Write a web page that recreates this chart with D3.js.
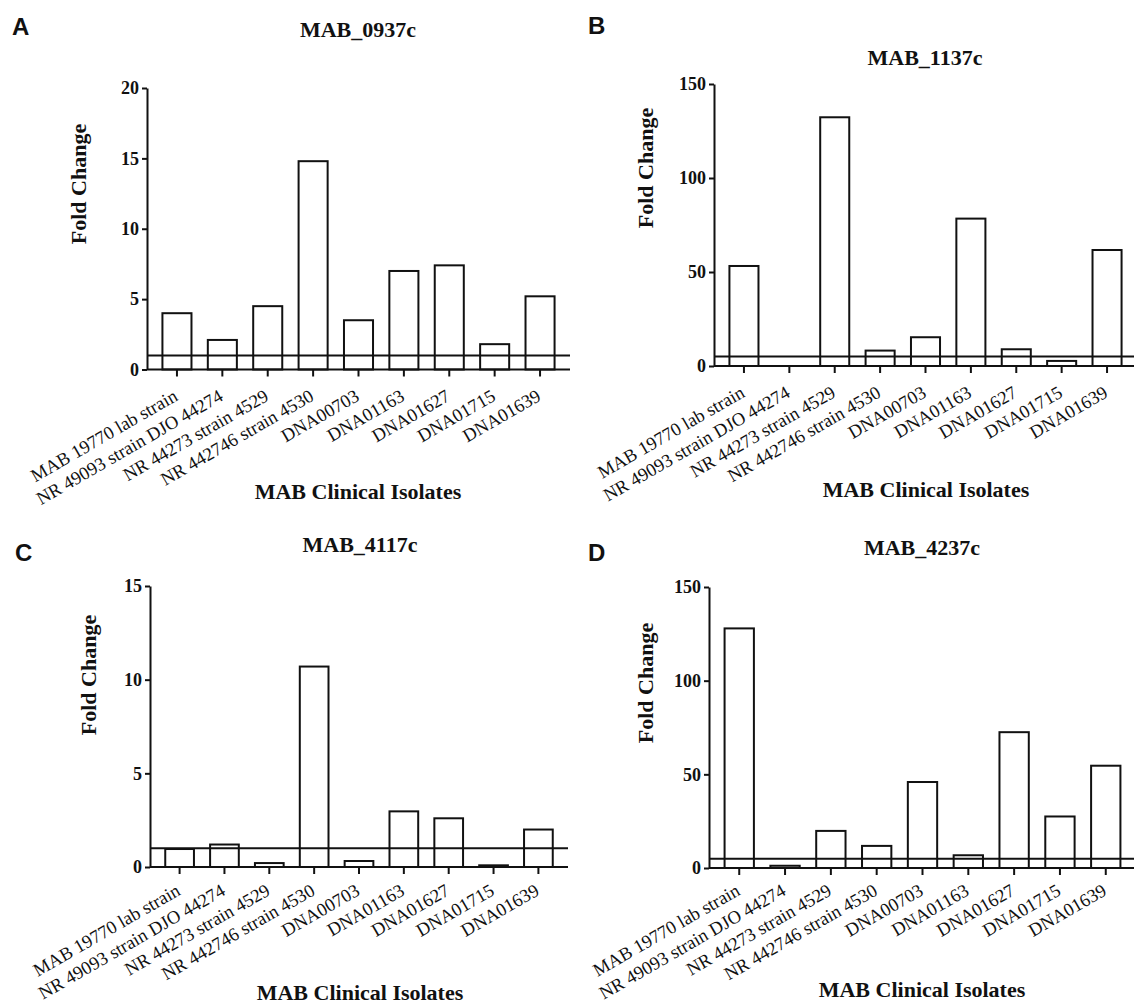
<!DOCTYPE html>
<html>
<head>
<meta charset="utf-8">
<script src="https://cdn.jsdelivr.net/npm/d3@7"></script>
<style>
  body { margin: 0; background: #fff; }
  svg text { fill: #111; }
</style>
</head>
<body>
<svg id="chart" width="1134" height="1005"></svg>
<script>
// isolates on the x axis (same for all four panels)
var isolates = ["MAB 19770 lab strain", "NR 49093 strain DJO 44274", "NR 44273 strain 4529",
  "NR 442746 strain 4530", "DNA00703", "DNA01163", "DNA01627", "DNA01715", "DNA01639"];

// fold change per gene
var mab0937c = [4.0, 2.1, 4.5, 14.8, 3.5, 7.0, 7.4, 1.8, 5.2];
var mab1137c = [53.2, null, 132.3, 8.2, 15.3, 78.4, 8.9, 2.7, 61.7];
var mab4117c = [0.96, 1.2, 0.21, 10.7, 0.32, 2.97, 2.6, 0.09, 2.0];
var mab4237c = [127.9, 1.2, 19.8, 11.8, 45.9, 6.8, 72.5, 27.5, 54.6];

var genes = ["MAB_0937c", "MAB_1137c", "MAB_4117c", "MAB_4237c"];
var letters = ["A", "B", "C", "D"];
var thresholds = [1, 5, 1, 5];
var yMax = [20, 150, 15, 150];
var yTicks = [[0, 5, 10, 15, 20], [0, 50, 100, 150], [0, 5, 10, 15], [0, 50, 100, 150]];
var seriesList = [mab0937c, mab1137c, mab4117c, mab4237c];

// layout of each panel (pixels)
var panels = [
  { x0: 147, x1: 570, y0: 369.5, y1: 88, lab: 30, title: [358, 37], letter: [12, 35], ylab: [78, 184], xlab: [358, 499] },
  { x0: 714, x1: 1137, y0: 366, y1: 84, lab: 30, title: [925, 65], letter: [588, 34], ylab: [645, 168], xlab: [926, 497] },
  { x0: 150, x1: 568, y0: 867, y1: 586, lab: 27, title: [360, 552], letter: [15, 561], ylab: [88, 675], xlab: [360, 1000] },
  { x0: 709, x1: 1136, y0: 868, y1: 587, lab: 26, title: [922, 555], letter: [588, 561], ylab: [645, 683], xlab: [922, 997] }
];

var svg = d3.select("#chart");
var serif = "'Liberation Serif', 'Times New Roman', serif";

panels.forEach(function(p, i) {
  var values = seriesList[i];
  var g = svg.append("g");

  var x = d3.scaleBand().domain(isolates).range([p.x0, p.x1]).paddingInner(0.36).paddingOuter(0.34);
  var y = d3.scaleLinear().domain([0, yMax[i]]).range([p.y0, p.y1]);

  // bars
  g.selectAll("rect.bar").data(isolates.map(function(d, k) { return { name: d, v: values[k] }; })
      .filter(function(d) { return d.v != null; }))
    .enter().append("rect")
    .attr("class", "bar")
    .attr("x", function(d) { return x(d.name); })
    .attr("y", function(d) { return y(d.v); })
    .attr("width", x.bandwidth())
    .attr("height", function(d) { return y(0) - y(d.v); })
    .attr("fill", "#fff")
    .attr("stroke", "#111")
    .attr("stroke-width", 2);

  // threshold line
  g.append("line")
    .attr("x1", p.x0).attr("x2", p.x1)
    .attr("y1", y(thresholds[i])).attr("y2", y(thresholds[i]))
    .attr("stroke", "#111").attr("stroke-width", 2);

  // y axis
  var yAxis = g.append("g").attr("transform", "translate(" + p.x0 + ",0)")
    .call(d3.axisLeft(y).tickValues(yTicks[i]).tickSize(5).tickSizeOuter(0).tickPadding(3));
  yAxis.selectAll("path, line").attr("stroke", "#111").attr("stroke-width", 2);
  yAxis.selectAll("text").attr("font-family", serif).attr("font-weight", "bold")
    .attr("font-size", 18).attr("fill", "#111");

  // x axis
  var xAxis = g.append("g").attr("transform", "translate(0," + p.y0 + ")")
    .call(d3.axisBottom(x).tickSize(7).tickSizeOuter(0));
  xAxis.select(".domain").attr("d", "M" + p.x0 + ",0H" + p.x1);
  xAxis.selectAll("path, line").attr("stroke", "#111").attr("stroke-width", 2);
  xAxis.selectAll("text")
    .attr("font-family", serif).attr("font-size", 18.5).attr("fill", "#111")
    .attr("text-anchor", "end")
    .attr("dy", null).attr("y", null)
    .attr("transform", "translate(2," + p.lab + ") rotate(-30)");

  // titles
  g.append("text").attr("x", p.title[0]).attr("y", p.title[1])
    .attr("text-anchor", "middle").attr("font-family", serif).attr("font-weight", "bold")
    .attr("font-size", 22).text(genes[i]);
  g.append("text").attr("x", p.letter[0]).attr("y", p.letter[1])
    .attr("font-family", "'Liberation Sans', Arial, sans-serif").attr("font-weight", "bold")
    .attr("font-size", 24).text(letters[i]);
  g.append("text")
    .attr("transform", "translate(" + p.ylab[0] + "," + p.ylab[1] + ") rotate(-90)")
    .attr("text-anchor", "middle").attr("dy", "0.35em")
    .attr("font-family", serif).attr("font-weight", "bold").attr("font-size", 22)
    .text("Fold Change");
  g.append("text").attr("x", p.xlab[0]).attr("y", p.xlab[1])
    .attr("text-anchor", "middle").attr("font-family", serif).attr("font-weight", "bold")
    .attr("font-size", 22).text("MAB Clinical Isolates");
});
</script>
</body>
</html>
